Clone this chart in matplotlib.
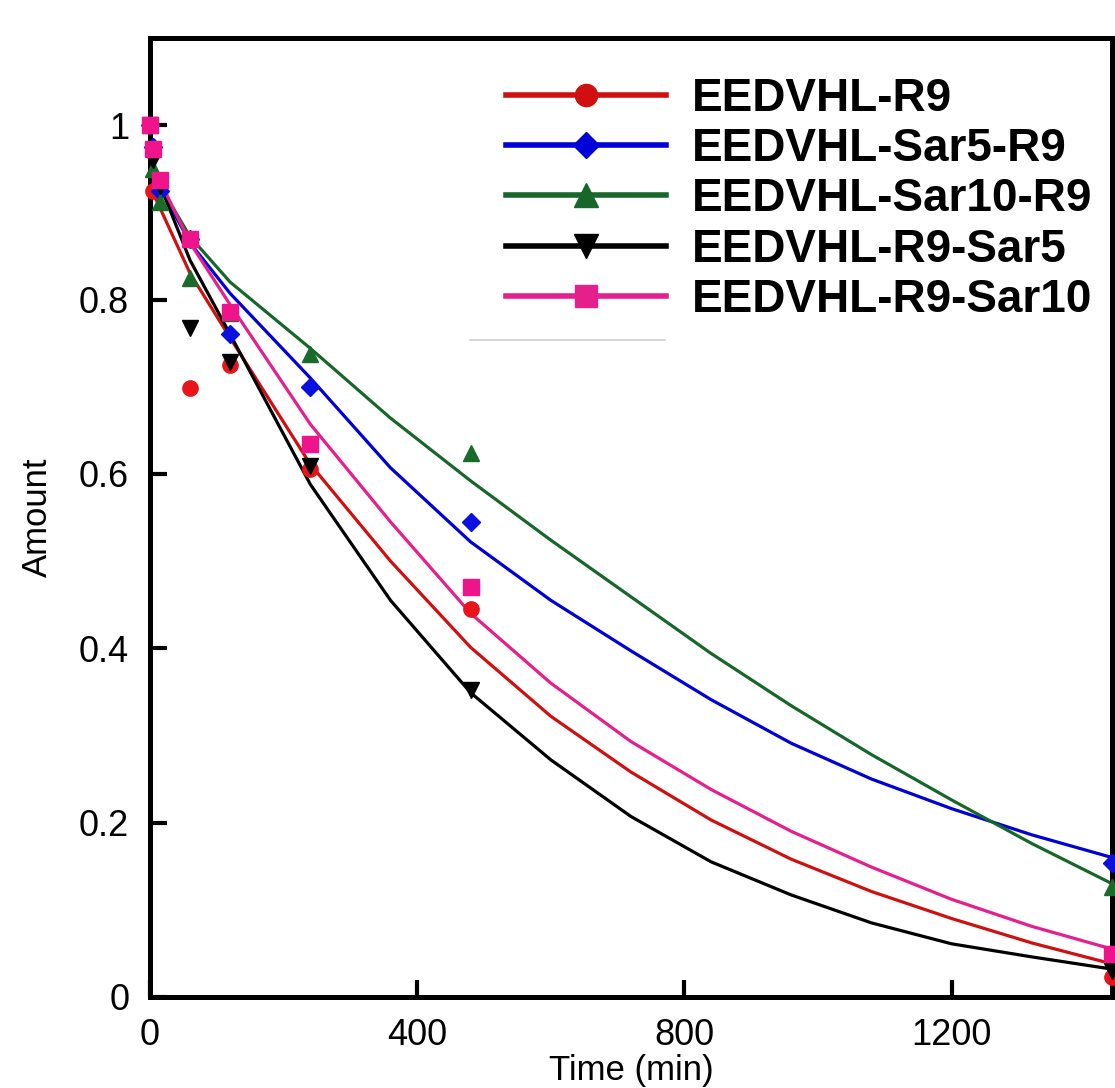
import matplotlib
matplotlib.use("Agg")
import matplotlib.pyplot as plt
from matplotlib.lines import Line2D
from matplotlib.ticker import FuncFormatter

# measured points
t_pts = [0, 5, 15, 60, 120, 240, 480, 1440]
red_pts = [1.0, 0.925, 0.93, 0.698, 0.725, 0.606, 0.445, 0.023]
blue_pts = [1.0, 0.975, 0.925, 0.87, 0.761, 0.70, 0.545, 0.154]
green_pts = [1.0, 0.95, 0.912, 0.825, 0.785, 0.738, 0.624, 0.126]
black_pts = [1.0, 0.96, 0.93, 0.767, 0.728, 0.609, 0.352, 0.030]
pink_pts = [1.0, 0.973, 0.937, 0.869, 0.786, 0.634, 0.47, 0.049]

# fitted curves
t_fit = [0, 60, 120, 240, 360, 480, 600, 720, 840, 960, 1080, 1200, 1320, 1440]
red_fit = [0.93, 0.83, 0.756, 0.611, 0.50, 0.401, 0.322, 0.258, 0.203, 0.158, 0.121, 0.090, 0.062, 0.038]
blue_fit = [0.95, 0.865, 0.807, 0.71, 0.607, 0.522, 0.455, 0.397, 0.341, 0.291, 0.250, 0.216, 0.186, 0.160]
green_fit = [0.95, 0.872, 0.82, 0.744, 0.664, 0.592, 0.524, 0.459, 0.394, 0.334, 0.278, 0.226, 0.176, 0.130]
black_fit = [0.96, 0.845, 0.76, 0.588, 0.455, 0.349, 0.272, 0.207, 0.155, 0.117, 0.085, 0.061, 0.046, 0.032]
pink_fit = [0.96, 0.865, 0.794, 0.657, 0.545, 0.44, 0.360, 0.293, 0.238, 0.190, 0.149, 0.112, 0.081, 0.055]

labels = ["EEDVHL-R9", "EEDVHL-Sar5-R9", "EEDVHL-Sar10-R9", "EEDVHL-R9-Sar5", "EEDVHL-R9-Sar10"]
line_colors = ["#d01010", "#0000d8", "#17672a", "#000000", "#e5208c"]
point_colors = ["#e8141a", "#0a10e0", "#1a6b2a", "#000000", "#f0148c"]
markers = ["o", "D", "^", "v", "s"]
msizes = [11, 9, 12, 12, 11]

pts = [red_pts, blue_pts, green_pts, black_pts, pink_pts]
fits = [red_fit, blue_fit, green_fit, black_fit, pink_fit]

plt.rcParams["font.family"] = ["Liberation Sans", "DejaVu Sans"]

fig = plt.figure(figsize=(11.15, 10.88), dpi=100)
ax = fig.add_axes([150 / 1115, 91 / 1088, 962 / 1115, 959 / 1088])

for yf, c in zip(fits, line_colors):
    ax.plot(t_fit, yf, color=c, lw=2.3, zorder=2, solid_joinstyle="round")

for yp, c, m, ms in zip(pts, point_colors, markers, msizes):
    ax.plot(t_pts, yp, ls="none", marker=m, ms=ms, color=c,
            markeredgecolor=c, clip_on=False, zorder=3)

ax.set_xlim(0, 1440)
ax.set_ylim(0, 1.1)
ax.set_xticks([0, 400, 800, 1200])
ax.set_yticks([0, 0.2, 0.4, 0.6, 0.8, 1.0])
ax.yaxis.set_major_formatter(FuncFormatter(lambda v, p: "{:g}".format(round(v, 2))))

for s in ax.spines.values():
    s.set_linewidth(3.6)
ax.tick_params(direction="in", length=12, width=3, labelsize=26, pad=15,
               top=False, right=False)

ax.set_xlabel("Time (min)", fontsize=25, labelpad=1)
ax.set_ylabel("Amount", fontsize=25, labelpad=18)

# faint frame of the pasted legend handle area
ax.plot([(470 - 150) / 962, (665 - 150) / 962], [(997 - 340) / 959] * 2,
        transform=ax.transAxes, color="#d0d0d0", lw=1.2, zorder=1)

handles = [Line2D([], [], color=c, lw=4, marker=m, ms=ms * 1.45, markeredgecolor=c)
           for c, m, ms in zip(line_colors, markers, msizes)]
leg = ax.legend(handles, labels, loc="upper right",
                bbox_to_anchor=((1092 - 150) / 962, (997 - 77) / 959),
                frameon=False, borderpad=0, borderaxespad=0,
                handlelength=3.5, handletextpad=0.55, labelspacing=0.135,
                prop={"family": "Liberation Sans", "weight": "bold", "size": 33})

fig.savefig("out.png", dpi=100)
